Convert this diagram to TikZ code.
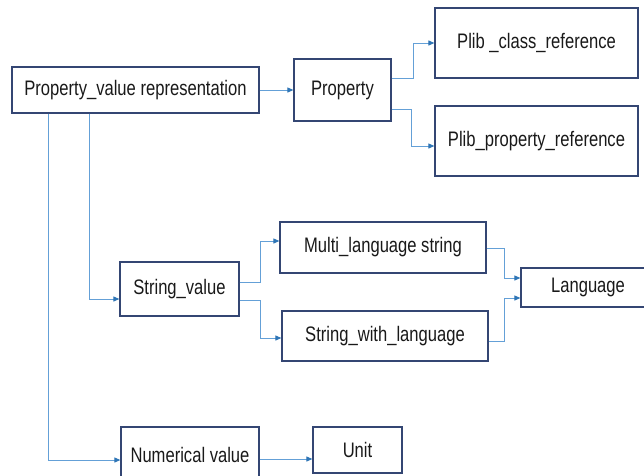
\documentclass[tikz,border=0pt]{standalone}
\usepackage{fontspec}
\setmainfont[FakeStretch=0.79]{Liberation Sans}
\usetikzlibrary{arrows.meta}
\definecolor{boxline}{RGB}{52,70,115}
\definecolor{connline}{RGB}{100,160,215}
\definecolor{tipcol}{RGB}{46,117,182}
\begin{document}
\begin{tikzpicture}[x=1pt,y=-1pt,
  box/.style={draw=boxline,line width=1.2pt,inner sep=0pt,align=center,
    font=\fontsize{21}{24}\selectfont,text=black!90},
  conn/.style={draw=connline,line width=0.9pt,
    -{Triangle[length=6pt,width=5pt,color=tipcol]}}]
\useasboundingbox (0,0) rectangle (644,475);
% boxes: centre = ((x1+x2)/2,(y1+y2)/2), size = (x2-x1, y2-y1)
\node[box,minimum width=247pt,minimum height=46pt] (pvr) at (135.5,90) {Property\_value representation};
\node[box,minimum width=97pt,minimum height=62pt] (prop) at (342.5,90) {Property};
\node[box,minimum width=203pt,minimum height=70pt] (pcr) at (536.5,43) {Plib \_class\_reference};
\node[box,minimum width=203pt,minimum height=70pt] (ppr) at (536.5,141) {Plib\_property\_reference};
\node[box,minimum width=119pt,minimum height=54pt] (sv) at (179.5,289) {String\_value};
\node[box,minimum width=206pt,minimum height=51pt] (ml) at (383,247.5) {Multi\_language string};
\node[box,minimum width=206pt,minimum height=50pt] (swl) at (385,336) {String\_with\_language};
\node[box,minimum width=134pt,minimum height=39pt] (lang) at (588,287.5) {Language};
\node[box,minimum width=138pt,minimum height=56pt] (num) at (190,455) {Numerical value};
\node[box,minimum width=89pt,minimum height=46pt] (unit) at (357.5,450) {Unit};
% connectors
\draw[conn] (pvr.east) -- (prop.west);
\draw[conn] ([yshift=12pt]prop.east) -- ++(22,0) |- (pcr.west);
\draw[conn] ([yshift=-19pt]prop.east) -- ++(20,0) |- ([yshift=-5pt]ppr.west);
\draw[conn] ([xshift=-46.5pt]pvr.south) |- ([yshift=-10pt]sv.west);
\draw[conn] ([xshift=-87.5pt]pvr.south) |- ([yshift=-5pt]num.west);
\draw[conn] ([yshift=7pt]sv.east) -- ++(21,0) |- ([yshift=6.5pt]ml.west);
\draw[conn] ([yshift=-11pt]sv.east) -- ++(21,0) |- ([yshift=-2pt]swl.west);
\draw[conn] ([yshift=-0.5pt]ml.east) -- ++(18,0) |- ([yshift=9.5pt]lang.west);
\draw[conn] ([yshift=-5pt]swl.east) -- ++(16,0) |- ([yshift=-10.5pt]lang.west);
\draw[conn] ([yshift=-4pt]num.east) -- ([yshift=-9pt]unit.west);
\end{tikzpicture}
\end{document}
